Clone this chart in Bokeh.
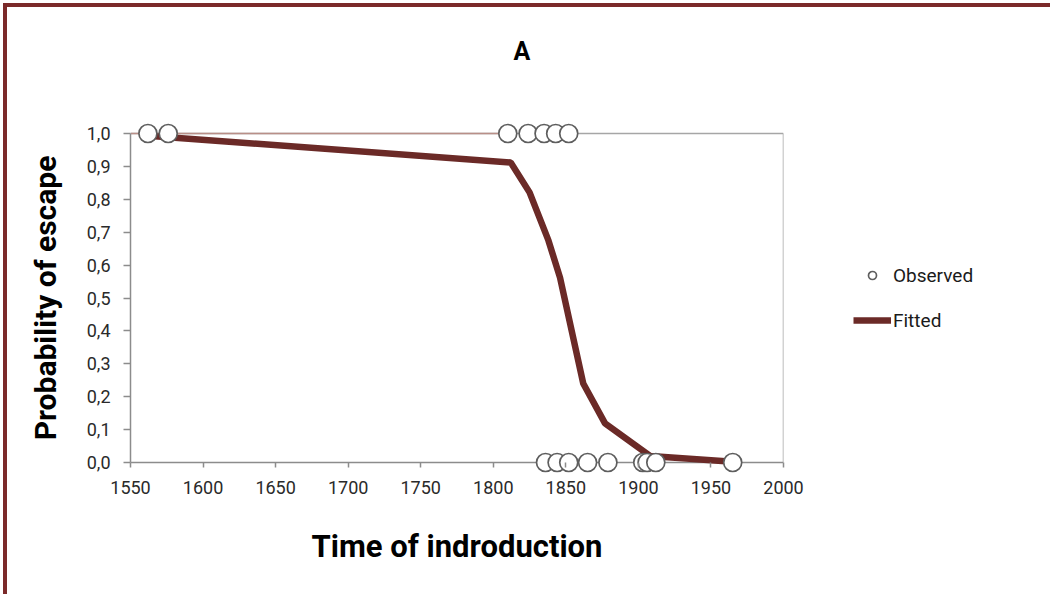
from bokeh.plotting import figure
from bokeh.models import Legend, LegendItem, FixedTicker
from bokeh.embed import file_html
from bokeh.resources import INLINE

# Observed data (time of introduction, escaped 1/0)
obs_x = [1562, 1576, 1810, 1824, 1835, 1843, 1852,
         1836, 1844, 1852, 1865, 1879, 1903, 1906, 1912, 1965]
obs_y = [1, 1, 1, 1, 1, 1, 1,
         0, 0, 0, 0, 0, 0, 0, 0, 0]

# Fitted curve
fit_x = [1562, 1812, 1825, 1838, 1846, 1862, 1877, 1908, 1965]
fit_y = [0.993, 0.912, 0.821, 0.675, 0.562, 0.240, 0.119, 0.020, 0.002]

x_ticks = [1550, 1600, 1650, 1700, 1750, 1800, 1850, 1900, 1950, 2000]
y_ticks = [0.0, 0.1, 0.2, 0.3, 0.4, 0.5, 0.6, 0.7, 0.8, 0.9, 1.0]
y_tick_labels = ["0,0", "0,1", "0,2", "0,3", "0,4", "0,5", "0,6", "0,7", "0,8", "0,9", "1,0"]

FONT = "Roboto"
LINE_COLOR = "#6b2a27"
GRID_GRAY = "#a6a6a6"
AXIS_GRAY = "#8c8c8c"

pad = 11 / 329
p = figure(width=1043, height=587, output_backend="svg", toolbar_location=None,
           x_range=(x_ticks[0], x_ticks[-1]), y_range=(y_ticks[0] - pad, y_ticks[-1] + pad),
           frame_width=653, frame_height=351,
           min_border_left=123, min_border_right=267, min_border_top=115, min_border_bottom=121)
p.styles = {"border-left": "4px solid #7b2a2a", "border-top": "4px solid #7b2a2a",
            "margin-left": "3px", "margin-top": "3px"}

p.xgrid.visible = False
p.ygrid.visible = False
p.outline_line_color = None

# plot-area border (top, right) and the x axis line at 0
p.segment(x0=[x_ticks[0], x_ticks[-1], x_ticks[0], x_ticks[0]],
          y0=[y_ticks[-1], y_ticks[0], y_ticks[0], y_ticks[-1]],
          x1=[x_ticks[-1], x_ticks[-1], x_ticks[-1], obs_x[2]],
          y1=[y_ticks[-1], y_ticks[-1], y_ticks[0], y_ticks[-1]],
          line_color=[GRID_GRAY, GRID_GRAY, AXIS_GRAY, "#b98f88"], line_width=1.5)

r_fit = p.line(fit_x, fit_y, line_color=LINE_COLOR, line_width=6.5)
r_obs = p.scatter(obs_x, obs_y, size=18, fill_color="white", line_color="#5e5e5e", line_width=1.7)

for ax in (p.xaxis[0], p.yaxis[0]):
    ax.axis_line_color = AXIS_GRAY
    ax.axis_line_width = 1.5
    ax.major_tick_line_color = AXIS_GRAY
    ax.major_tick_line_width = 1.5
    ax.minor_tick_line_color = None
    ax.major_label_text_font = FONT
    ax.major_label_text_font_size = "18px"
    ax.major_label_text_color = "#2a2a2a"
    ax.axis_label_text_font = FONT
    ax.axis_label_text_font_style = "bold"
    ax.axis_label_text_color = "black"

p.xaxis.axis_line_color = None
p.xaxis.major_tick_in = 11
p.xaxis.major_tick_out = -6
p.yaxis.major_tick_in = 0
p.yaxis.major_tick_out = 7
p.yaxis.bounds = (y_ticks[0], y_ticks[-1])
p.xaxis.ticker = FixedTicker(ticks=x_ticks)
p.yaxis.ticker = FixedTicker(ticks=y_ticks)
p.yaxis.major_label_overrides = {t: l for t, l in zip(y_ticks, y_tick_labels)}
p.xaxis.major_label_standoff = 7
p.yaxis.major_label_standoff = 13
p.xaxis.axis_label = "Time of indroduction"
p.yaxis.axis_label = "Probability of escape"
p.xaxis.axis_label_text_font_size = "31px"
p.yaxis.axis_label_text_font_size = "30px"
p.xaxis.axis_label_standoff = 31
p.yaxis.axis_label_standoff = 21

p.title.text = "A\n"
p.title.text_font = FONT
p.title.text_font_style = "bold"
p.title.text_font_size = "25px"
p.title.text_color = "black"
p.title.align = "left"
p.title.offset = 383
p.title.standoff = 55

legend = Legend(items=[LegendItem(label="Observed", renderers=[r_obs]),
                       LegendItem(label="Fitted", renderers=[r_fit])],
                location="left", orientation="vertical",
                border_line_color=None, background_fill_alpha=0,
                padding=0, margin=70, spacing=22,
                glyph_width=38, glyph_height=20, label_height=20,
                label_standoff=2,
                label_text_font=FONT, label_text_font_size="19px",
                label_text_color="#1a1a1a")
p.add_layout(legend, "right")

open("out.html", "w").write(file_html(p, INLINE))
